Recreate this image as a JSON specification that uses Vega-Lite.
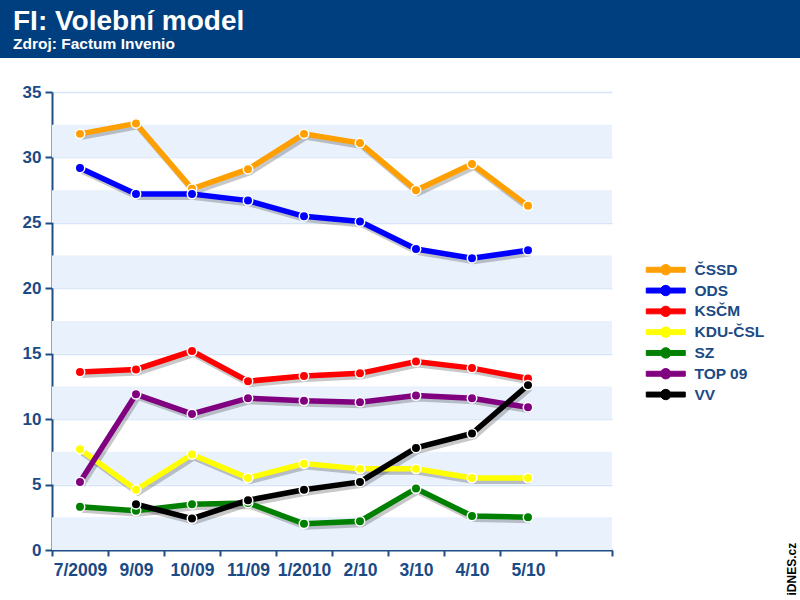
{
  "$schema": "https://vega.github.io/schema/vega-lite/v6.json",
  "padding": 0,
  "background": "white",
  "bounds": "flush",
  "spacing": 34,
  "config": {
    "view": {"stroke": null},
    "font": "Liberation Sans"
  },
  "datasets": {
    "polls": [
      {"party": "ČSSD", "month": "7/2009", "value": 31.8},
      {"party": "ČSSD", "month": "9/09", "value": 32.6},
      {"party": "ČSSD", "month": "10/09", "value": 27.6},
      {"party": "ČSSD", "month": "11/09", "value": 29.1},
      {"party": "ČSSD", "month": "1/2010", "value": 31.8},
      {"party": "ČSSD", "month": "2/10", "value": 31.1},
      {"party": "ČSSD", "month": "3/10", "value": 27.5},
      {"party": "ČSSD", "month": "4/10", "value": 29.5},
      {"party": "ČSSD", "month": "5/10", "value": 26.3},
      {"party": "ODS", "month": "7/2009", "value": 29.2},
      {"party": "ODS", "month": "9/09", "value": 27.2},
      {"party": "ODS", "month": "10/09", "value": 27.2},
      {"party": "ODS", "month": "11/09", "value": 26.7},
      {"party": "ODS", "month": "1/2010", "value": 25.5},
      {"party": "ODS", "month": "2/10", "value": 25.1},
      {"party": "ODS", "month": "3/10", "value": 23.0},
      {"party": "ODS", "month": "4/10", "value": 22.3},
      {"party": "ODS", "month": "5/10", "value": 22.9},
      {"party": "KSČM", "month": "7/2009", "value": 13.6},
      {"party": "KSČM", "month": "9/09", "value": 13.8},
      {"party": "KSČM", "month": "10/09", "value": 15.2},
      {"party": "KSČM", "month": "11/09", "value": 12.9},
      {"party": "KSČM", "month": "1/2010", "value": 13.3},
      {"party": "KSČM", "month": "2/10", "value": 13.5},
      {"party": "KSČM", "month": "3/10", "value": 14.4},
      {"party": "KSČM", "month": "4/10", "value": 13.9},
      {"party": "KSČM", "month": "5/10", "value": 13.1},
      {"party": "KDU-ČSL", "month": "7/2009", "value": 7.7},
      {"party": "KDU-ČSL", "month": "9/09", "value": 4.6},
      {"party": "KDU-ČSL", "month": "10/09", "value": 7.3},
      {"party": "KDU-ČSL", "month": "11/09", "value": 5.5},
      {"party": "KDU-ČSL", "month": "1/2010", "value": 6.6},
      {"party": "KDU-ČSL", "month": "2/10", "value": 6.2},
      {"party": "KDU-ČSL", "month": "3/10", "value": 6.2},
      {"party": "KDU-ČSL", "month": "4/10", "value": 5.5},
      {"party": "KDU-ČSL", "month": "5/10", "value": 5.5},
      {"party": "SZ", "month": "7/2009", "value": 3.3},
      {"party": "SZ", "month": "9/09", "value": 3.0},
      {"party": "SZ", "month": "10/09", "value": 3.5},
      {"party": "SZ", "month": "11/09", "value": 3.6},
      {"party": "SZ", "month": "1/2010", "value": 2.0},
      {"party": "SZ", "month": "2/10", "value": 2.2},
      {"party": "SZ", "month": "3/10", "value": 4.7},
      {"party": "SZ", "month": "4/10", "value": 2.6},
      {"party": "SZ", "month": "5/10", "value": 2.5},
      {"party": "TOP 09", "month": "7/2009", "value": 5.2},
      {"party": "TOP 09", "month": "9/09", "value": 11.9},
      {"party": "TOP 09", "month": "10/09", "value": 10.4},
      {"party": "TOP 09", "month": "11/09", "value": 11.6},
      {"party": "TOP 09", "month": "1/2010", "value": 11.4},
      {"party": "TOP 09", "month": "2/10", "value": 11.3},
      {"party": "TOP 09", "month": "3/10", "value": 11.8},
      {"party": "TOP 09", "month": "4/10", "value": 11.6},
      {"party": "TOP 09", "month": "5/10", "value": 10.9},
      {"party": "VV", "month": "9/09", "value": 3.5},
      {"party": "VV", "month": "10/09", "value": 2.4},
      {"party": "VV", "month": "11/09", "value": 3.8},
      {"party": "VV", "month": "1/2010", "value": 4.6},
      {"party": "VV", "month": "2/10", "value": 5.2},
      {"party": "VV", "month": "3/10", "value": 7.8},
      {"party": "VV", "month": "4/10", "value": 8.9},
      {"party": "VV", "month": "5/10", "value": 12.6}
    ],
    "bands": [
      {"lo": 0, "hi": 2.5},
      {"lo": 5, "hi": 7.5},
      {"lo": 10, "hi": 12.5},
      {"lo": 15, "hi": 17.5},
      {"lo": 20, "hi": 22.5},
      {"lo": 25, "hi": 27.5},
      {"lo": 30, "hi": 32.5}
    ]
  },
  "resolve": {"scale": {"color": "independent", "x": "independent", "y": "independent"}},
  "vconcat": [
    {
      "width": 800,
      "height": 58,
      "view": {"fill": "#003f7f", "stroke": null},
      "title": {
        "text": "FI: Volební model",
        "subtitle": "Zdroj: Factum Invenio",
        "anchor": "start",
        "frame": "group",
        "offset": -52,
        "dx": 13,
        "color": "white",
        "subtitleColor": "white",
        "font": "Liberation Sans",
        "subtitleFont": "Liberation Sans",
        "fontSize": 28,
        "fontWeight": "bold",
        "subtitleFontSize": 15.5,
        "subtitleFontWeight": "bold",
        "subtitlePadding": 1
      },
      "data": {"values": [{}]},
      "mark": "text",
      "encoding": {"text": {"value": ""}}
    },
    {
      "bounds": "flush",
      "spacing": 0,
      "resolve": {"scale": {"color": "independent", "x": "independent", "y": "independent"}},
      "hconcat": [
        {
          "width": 52,
          "height": 458,
          "data": {"values": [{}]},
          "mark": "text",
          "encoding": {"text": {"value": ""}}
        },
        {
          "width": 560,
          "height": 458,
          "title": {
            "text": "iDNES.cz",
            "orient": "right",
            "anchor": "end",
            "frame": "bounds",
            "angle": 270,
            "align": "left",
            "baseline": "bottom",
            "offset": 22,
            "dx": -17,
            "fontSize": 12,
            "fontWeight": "bold",
            "color": "black",
            "font": "Liberation Sans"
          },
          "layer": [
            {
              "data": {"name": "bands"},
              "mark": {"type": "rect", "color": "#e9f1fc"},
              "encoding": {
                "y": {
                  "field": "lo",
                  "type": "quantitative",
                  "title": null,
                  "scale": {"domain": [0, 35], "nice": false},
                  "axis": {
                    "values": [0, 2.5, 5, 7.5, 10, 12.5, 15, 17.5, 20, 22.5, 25, 27.5, 30, 32.5, 35],
                    "labelExpr": "datum.value % 5 === 0 ? datum.label : ''",
                    "grid": true,
                    "gridColor": "#d5e5f7",
                    "gridWidth": 1.5,
                    "domainColor": "#1f4e85",
                    "domainWidth": 2,
                    "tickColor": "#1f4e85",
                    "tickWidth": 2,
                    "tickSize": 7,
                    "tickOpacity": {"condition": {"test": "datum.value % 5 !== 0", "value": 0}, "value": 1},
                    "labelFont": "Liberation Sans",
                    "labelFontSize": 17,
                    "labelFontWeight": "bold",
                    "labelColor": "#1b4a85",
                    "labelPadding": 4
                  }
                },
                "y2": {"field": "hi"}
              }
            },
            {
              "data": {"name": "polls"},
              "mark": {"type": "line", "strokeWidth": 6, "color": "#222222", "opacity": 0.25, "xOffset": 2, "yOffset": 3},
              "encoding": {
                "x": {"field": "month", "type": "ordinal"},
                "y": {"field": "value", "type": "quantitative", "title": null},
                "detail": {"field": "party"}
              }
            },
            {
              "data": {"name": "polls"},
              "mark": {"type": "line", "strokeWidth": 5.5},
              "encoding": {
                "x": {
                  "field": "month",
                  "type": "ordinal",
                  "title": null,
                  "scale": {
                    "type": "band",
                    "domain": ["7/2009", "9/09", "10/09", "11/09", "1/2010", "2/10", "3/10", "4/10", "5/10", " "],
                    "paddingInner": 0,
                    "paddingOuter": 0
                  },
                  "axis": {
                    "labelAngle": 0,
                    "labelAlign": "center",
                    "tickBand": "extent",
                    "domainColor": "#1f4e85",
                    "domainWidth": 2,
                    "tickColor": "#1f4e85",
                    "tickWidth": 2,
                    "tickSize": 6,
                    "labelFont": "Liberation Sans",
                    "labelFontSize": 17.5,
                    "labelFontWeight": "bold",
                    "labelColor": "#1b4a85",
                    "labelPadding": 14
                  }
                },
                "y": {"field": "value", "type": "quantitative", "title": null},
                "color": {
                  "field": "party",
                  "type": "nominal",
                  "scale": {
                    "domain": ["ČSSD", "ODS", "KSČM", "KDU-ČSL", "SZ", "TOP 09", "VV"],
                    "range": ["#ffa000", "#0000ff", "#ff0000", "#ffff00", "#008000", "#800080", "#000000"]
                  },
                  "legend": {
                    "title": null,
                    "orient": "none",
                    "legendX": 606,
                    "legendY": 170,
                    "symbolType": "M-3,-0.38H-0.75V0.38H-3Z M0.75,-0.38H3V0.38H0.75Z M0.8,0A0.8,0.8,0,1,1,-0.8,0A0.8,0.8,0,1,1,0.8,0Z",
                    "symbolSize": 169,
                    "symbolFillColor": null,
                    "symbolStrokeColor": "white",
                    "symbolStrokeWidth": 1,
                    "symbolOpacity": 1,
                    "labelFont": "Liberation Sans",
                    "labelFontSize": 15.5,
                    "labelFontWeight": "bold",
                    "labelColor": "#1b4a85",
                    "labelOffset": 21,
                    "rowPadding": 3.8
                  }
                }
              }
            },
            {
              "data": {"name": "polls"},
              "mark": {"type": "point", "shape": "circle", "filled": true, "size": 90, "stroke": "white", "strokeWidth": 1.5, "opacity": 1},
              "encoding": {
                "x": {"field": "month", "type": "ordinal"},
                "y": {"field": "value", "type": "quantitative", "title": null},
                "color": {"field": "party", "type": "nominal"}
              }
            }
          ]
        }
      ]
    }
  ]
}
